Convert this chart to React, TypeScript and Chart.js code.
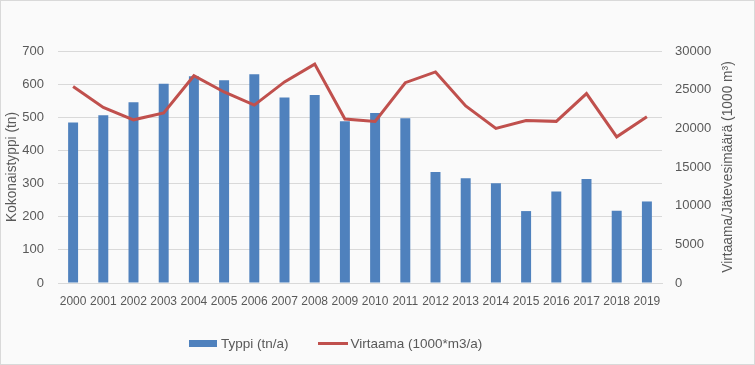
import React, { useEffect, useRef } from "react";
import { Chart, registerables } from "chart.js";

Chart.register(...registerables);

const years = ["2000","2001","2002","2003","2004","2005","2006","2007","2008","2009","2010","2011","2012","2013","2014","2015","2016","2017","2018","2019"];
const typpi = [484, 506, 545, 601, 624, 612, 630, 560, 567, 488, 513, 497, 335, 316, 301, 217, 276, 314, 218, 246];
const virtaama = [25400, 22700, 21100, 22000, 26800, 24700, 23000, 26000, 28300, 21200, 20900, 25900, 27300, 22900, 20000, 21000, 20900, 24500, 18900, 21500];

const leftTitle = "Kokonaistyppi (tn)";
const rightTitle = "Virtaama/Jätevesimäärä (1000 m³)";
const barLabel = "Typpi (tn/a)";
const lineLabel = "Virtaama (1000*m3/a)";

const FONT = "'Liberation Sans', Arial, sans-serif";
const TXT = "#595959";
const BLUE = "#4f81bd";
const RED = "#c0504d";

const titlesPlugin = {
  id: "axisTitles",
  afterDraw(chart: any) {
    const ctx = chart.ctx;
    const area = chart.chartArea;
    const cy = (area.top + area.bottom) / 2;
    ctx.save();
    ctx.fillStyle = TXT;
    ctx.font = `13.75px ${FONT}`;
    ctx.textAlign = "center";
    ctx.textBaseline = "middle";
    ctx.translate(12, cy);
    ctx.rotate(-Math.PI / 2);
    ctx.fillText(leftTitle, 0, 0);
    ctx.restore();
    ctx.save();
    ctx.fillStyle = TXT;
    ctx.font = `13.75px ${FONT}`;
    ctx.textAlign = "center";
    ctx.textBaseline = "middle";
    ctx.translate(728, cy);
    ctx.rotate(-Math.PI / 2);
    ctx.fillText(rightTitle, 0, 0);
    ctx.restore();
  },
};

export default function App() {
  const ref = useRef<HTMLCanvasElement | null>(null);
  useEffect(() => {
    if (!ref.current) return;
    const chart = new Chart(ref.current, {
      type: "bar",
      data: {
        labels: years,
        datasets: [
          {
            type: "line",
            label: lineLabel,
            data: virtaama,
            yAxisID: "y1",
            borderColor: RED,
            backgroundColor: RED,
            borderWidth: 3,
            pointRadius: 0,
            tension: 0,
            order: 0,
          } as any,
          {
            type: "bar",
            label: barLabel,
            data: typpi,
            yAxisID: "y",
            backgroundColor: BLUE,
            barPercentage: 0.33,
            categoryPercentage: 1,
            order: 1,
          },
        ],
      },
      options: {
        animation: false,
        responsive: false,
        devicePixelRatio: 1,
        layout: { padding: { top: 51, left: 0, right: 0, bottom: 0 } },
        plugins: { legend: { display: false }, tooltip: { enabled: false } },
        scales: {
          x: {
            offset: true,
            grid: { display: false, drawTicks: false },
            border: { display: true, color: "#d9d9d9" },
            ticks: { color: TXT, font: { family: FONT, size: 12 }, padding: 11, maxRotation: 0, autoSkip: false },
            afterFit: (s: any) => { s.height = 82; },
          },
          y: {
            position: "left",
            min: 0,
            max: 700,
            ticks: { stepSize: 100, color: TXT, font: { family: FONT, size: 13 }, padding: 14 },
            grid: { color: "#d9d9d9", drawTicks: false },
            border: { display: false },
            afterFit: (s: any) => { s.width = 58; },
          },
          y1: {
            position: "right",
            min: 0,
            max: 30000,
            ticks: {
              stepSize: 5000,
              color: TXT,
              font: { family: FONT, size: 13 },
              padding: 13,
              callback: (v: any) => String(v),
            },
            grid: { display: false, drawTicks: false },
            border: { display: false },
            afterFit: (s: any) => { s.width = 93; },
          },
        },
      },
      plugins: [titlesPlugin],
    });
    return () => chart.destroy();
  }, []);

  return (
    <div style={{ position: "absolute", left: 0, top: 0, width: 755, height: 365, background: "#fafafa", fontFamily: FONT }}>
      <canvas ref={ref} width={755} height={365} style={{ position: "absolute", left: 0, top: 0 }} />
      <div style={{ position: "absolute", left: 189, top: 334, height: 18, display: "flex", alignItems: "center", color: TXT, fontSize: 13.5 }}>
        <span style={{ display: "inline-block", width: 28, height: 7, background: BLUE, marginRight: 4 }} />
        <span>{barLabel}</span>
        <span style={{ display: "inline-block", width: 30, height: 3, background: RED, marginLeft: 29, marginRight: 3 }} />
        <span>{lineLabel}</span>
      </div>
      <div style={{ position: "absolute", left: 0, top: 0, width: 755, height: 365, boxSizing: "border-box", border: "1px solid #d9d9d9", pointerEvents: "none" }} />
    </div>
  );
}
